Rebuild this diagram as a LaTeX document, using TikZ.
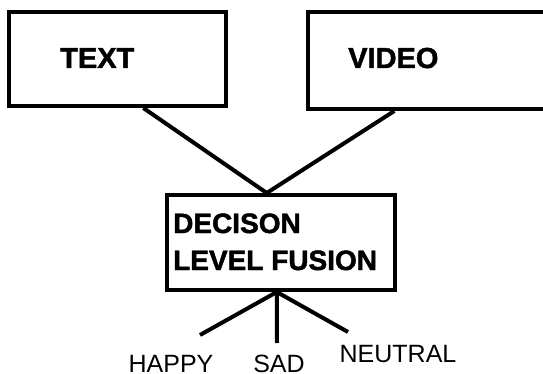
\documentclass[tikz,border=0pt]{standalone}
\usepackage{fontspec}
\setmainfont{Liberation Sans}
% heavier bold face for the box titles
\newfontfamily\heavyfont[BoldFont={Liberation Sans Bold}, BoldFeatures={FakeBold=1.6}]{Liberation Sans}
\usetikzlibrary{calc}

\tikzset{
  frame/.style={draw=black, line width=4pt, rectangle, inner sep=0pt, fill=none},
  wire/.style={draw=black, line width=4pt},
  boxtitle/.style={inner sep=0pt, anchor=base west, font=\heavyfont\fontsize{29}{35}\selectfont\bfseries},
  fusiontitle/.style={inner sep=0pt, anchor=base west, font=\heavyfont\fontsize{28}{34}\selectfont\bfseries},
  classlabel/.style={inner sep=0pt, anchor=base, font=\fontsize{25}{30}\selectfont},
}

\begin{document}
\begin{tikzpicture}[x=1pt, y=-1pt]
  \useasboundingbox (0,0) rectangle (543,374);
  \clip (0,0) rectangle (543,374);
  \fill[white] (0,0) rectangle (543,374);

  % input boxes
  \node[frame, minimum width=217pt, minimum height=94pt] (textbox) at (117.5,59) {};
  \node[frame, minimum width=252pt, minimum height=97pt] (videobox) at (434,60.5) {};
  \node[boxtitle] (texttitle) at (60,68) {TEXT};
  \node[boxtitle] (videotitle) at (348,68) {VIDEO};

  % fusion box
  \node[frame, minimum width=228pt, minimum height=95pt] (fusion) at (281,242.5) {};
  \node[fusiontitle] (fusionA) at (173,233) {DECISON};
  \node[fusiontitle] (fusionB) at (173,270) {LEVEL FUSION};

  % inputs join at the top of the fusion box
  \coordinate (join) at ($(fusion.north west)!0.4386!(fusion.north east)$);
  \draw[wire] ($(textbox.south west)!0.617!(textbox.south east)$) -- (join);
  \draw[wire] ($(videobox.south west)!0.345!(videobox.south east)$) -- (join);

  % output branches
  \coordinate (split) at ($(fusion.south west)!0.482!(fusion.south east)$);
  \coordinate (happyend) at (200,335);
  \coordinate (sadend) at (277,343);
  \coordinate (neutralend) at (348,332);
  \draw[wire] (split) -- (happyend);
  \draw[wire] (split) -- (sadend);
  \draw[wire] (split) -- (neutralend);

  \node[classlabel] (happy) at (171,372) {HAPPY};
  \node[classlabel] (sad) at (279,372) {SAD};
  \node[classlabel] (neutral) at (398,362) {NEUTRAL};
\end{tikzpicture}
\end{document}
